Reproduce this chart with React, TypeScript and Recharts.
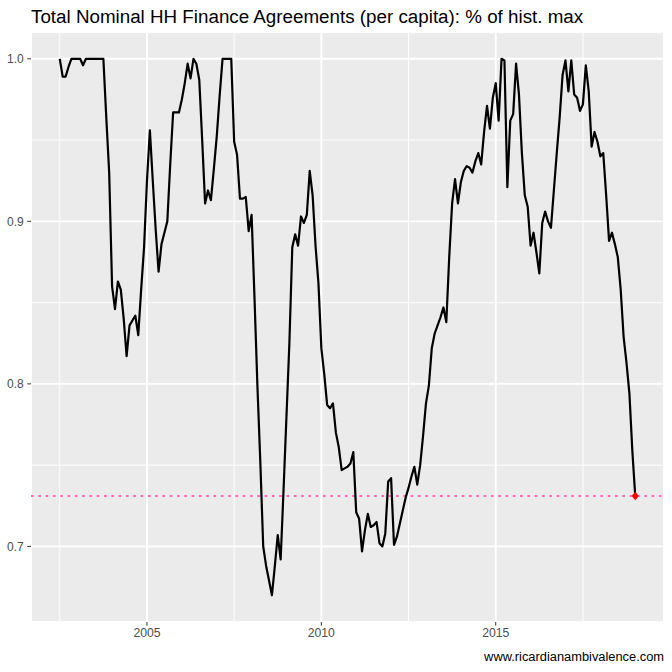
import React from 'react';
import {
  LineChart,
  Line,
  XAxis,
  YAxis,
  CartesianGrid,
  ReferenceLine,
  ReferenceDot,
} from 'recharts';

// monthly observations, first one is Jul 2002
const startYear = 2002.5;

// HH finance agreements per capita, as a share of the historical max
const ratio = [
  1.0, 0.989, 0.989, 0.995, 1.0, 1.0, 1.0, 1.0, 0.996, 1.0, 1.0, 1.0,
  1.0, 1.0, 1.0, 1.0, 0.964, 0.93, 0.86, 0.846, 0.863, 0.858, 0.84, 0.817,
  0.836, 0.839, 0.842, 0.83, 0.858, 0.884, 0.925, 0.956, 0.925, 0.895, 0.869, 0.886,
  0.893, 0.9, 0.935, 0.967, 0.967, 0.967, 0.975, 0.985, 0.997, 0.988, 1.0, 0.997,
  0.987, 0.95, 0.911, 0.919, 0.913, 0.932, 0.952, 0.977, 1.0, 1.0, 1.0, 1.0,
  0.949, 0.941, 0.914, 0.914, 0.915, 0.894, 0.904, 0.853, 0.799, 0.752, 0.7, 0.688,
  0.679, 0.67, 0.688, 0.707, 0.692, 0.735, 0.78, 0.825, 0.884, 0.892, 0.885, 0.903,
  0.899, 0.904, 0.931, 0.916, 0.885, 0.862, 0.822, 0.806, 0.787, 0.785, 0.788, 0.77,
  0.761, 0.747, 0.748, 0.749, 0.751, 0.758, 0.721, 0.717, 0.697, 0.71, 0.72, 0.712,
  0.713, 0.715, 0.702, 0.7, 0.708, 0.74, 0.742, 0.701, 0.706, 0.714, 0.722, 0.73,
  0.736, 0.743, 0.749, 0.738, 0.75, 0.768, 0.788, 0.799, 0.822, 0.831, 0.836, 0.841,
  0.847, 0.838, 0.878, 0.911, 0.926, 0.911, 0.924, 0.931, 0.934, 0.933, 0.93, 0.937,
  0.942, 0.935, 0.955, 0.971, 0.957, 0.976, 0.985, 0.962, 1.0, 0.999, 0.921, 0.962,
  0.966, 0.997, 0.978, 0.942, 0.916, 0.909, 0.885, 0.893, 0.881, 0.868, 0.899, 0.906,
  0.9, 0.896, 0.919, 0.942, 0.964, 0.99, 0.999, 0.98, 0.999, 0.978, 0.976, 0.968,
  0.972, 0.996, 0.98, 0.946, 0.955, 0.949, 0.94, 0.942, 0.916, 0.888, 0.893, 0.886,
  0.878, 0.858, 0.829, 0.813, 0.794, 0.759, 0.731,
];

const xTicks = [2005, 2010, 2015];
const xMinor = [2002.5, 2007.5, 2012.5, 2017.5];
const yTicks = [0.7, 0.8, 0.9, 1.0];
const yMinor = [0.75, 0.85, 0.95];

const chartData = ratio.map((v, i) => ({ t: startYear + i / 12, v }));

const FONT = '"Liberation Sans", Arial, sans-serif';

// ggplot-style 5% expansion
const tMin = chartData[0].t;
const tMax = chartData[chartData.length - 1].t;
const tPad = (tMax - tMin) * 0.05;
const vMin = Math.min(...ratio);
const vMax = Math.max(...ratio);
const vPad = (vMax - vMin) * 0.05;

const last = chartData[chartData.length - 1];

function Diamond(props: any) {
  const { cx, cy } = props;
  if (cx == null || cy == null) return null;
  const w = 3.6;
  const h = 4.3;
  return (
    <polygon
      points={`${cx},${cy - h} ${cx + w},${cy} ${cx},${cy + h} ${cx - w},${cy}`}
      fill="#FF0000"
    />
  );
}

export default function App() {
  return (
    <div
      style={{
        position: 'absolute',
        left: 0,
        top: 0,
        width: 672,
        height: 672,
        background: '#FFFFFF',
        fontFamily: FONT,
      }}
    >
      <div
        style={{
          position: 'absolute',
          left: 31,
          top: 5.5,
          fontSize: 18.8,
          lineHeight: '22px',
          color: '#000000',
          whiteSpace: 'nowrap',
        }}
      >
        Total Nominal HH Finance Agreements (per capita): % of hist. max
      </div>

      <LineChart
        width={672}
        height={672}
        data={chartData}
        margin={{ top: 32, right: 8, bottom: 0, left: 0 }}
      >
        <CartesianGrid
          fill="#EBEBEB"
          fillOpacity={1}
          stroke="#FFFFFF"
          strokeWidth={1.9}
        />
        {xMinor.map((x) => (
          <ReferenceLine key={`mx${x}`} x={x} stroke="#FFFFFF" strokeWidth={0.95} />
        ))}
        {yMinor.map((y) => (
          <ReferenceLine key={`my${y}`} y={y} stroke="#FFFFFF" strokeWidth={0.95} />
        ))}

        <XAxis
          dataKey="t"
          type="number"
          domain={[tMin - tPad, tMax + tPad]}
          ticks={xTicks}
          allowDataOverflow
          axisLine={false}
          tickLine={{ stroke: '#333333', strokeWidth: 1 }}
          tickSize={3.7}
          tickMargin={2.5}
          height={50}
          tick={{ fontSize: 12.2, fill: '#4D4D4D', fontFamily: FONT }}
        />
        <YAxis
          type="number"
          domain={[vMin - vPad, vMax + vPad]}
          ticks={yTicks}
          allowDataOverflow
          axisLine={false}
          tickLine={{ stroke: '#333333', strokeWidth: 1 }}
          tickSize={3.7}
          tickMargin={3.5}
          width={31}
          tickFormatter={(v: number) => v.toFixed(1)}
          tick={{ fontSize: 12, fill: '#4D4D4D', fontFamily: FONT }}
        />

        <ReferenceLine
          y={last.v}
          stroke="#FF69B4"
          strokeWidth={2}
          strokeDasharray="2.7 4.6"
        />

        <Line
          type="linear"
          dataKey="v"
          stroke="#000000"
          strokeWidth={2.2}
          strokeLinejoin="round"
          dot={false}
          activeDot={false}
          isAnimationActive={false}
        />

        <ReferenceDot x={last.t} y={last.v} r={4} shape={<Diamond />} />
      </LineChart>

      <div
        style={{
          position: 'absolute',
          right: 8,
          top: 650,
          fontSize: 12.85,
          lineHeight: '14px',
          color: '#000000',
          whiteSpace: 'nowrap',
        }}
      >
        www.ricardianambivalence.com
      </div>
    </div>
  );
}
